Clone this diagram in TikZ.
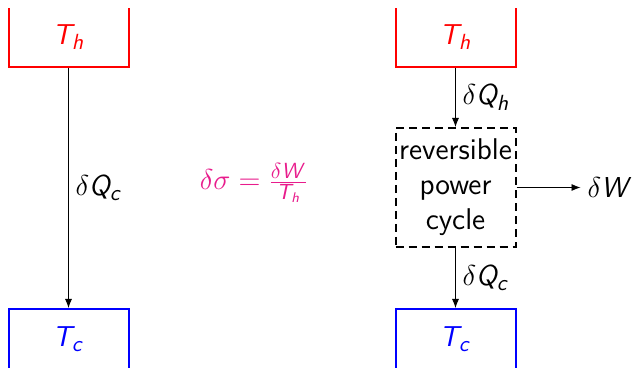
\documentclass[tikz,border=0pt]{standalone}
\usepackage{xcolor}
\usetikzlibrary{positioning,arrows.meta}
\DeclareMathAlphabet{\mathsfit}{OT1}{cmss}{m}{sl}
\definecolor{entpink}{RGB}{232,28,140}

\begin{document}
\begin{tikzpicture}[
  x=0.5pt, y=0.5pt,
  font=\fontsize{15}{17.5}\selectfont\sffamily,
  res/.style={draw, line width=1pt, minimum width=60pt, minimum height=30pt, inner sep=0pt},
  hot/.style={res, draw=red, text=red},
  cold/.style={res, draw=blue, text=blue},
  cyc/.style={draw, line width=1pt, dash pattern=on 4pt off 2.5pt, align=center,
    minimum width=60pt, minimum height=59.5pt, inner sep=0pt},
  >={Latex[length=4.5pt,width=3.5pt]}]
  \useasboundingbox (0,0) rectangle (633,368);
  \clip (0,0) rectangle (633,359.5);
  % left: direct heat transfer
  \node[hot]  (hotL)  at (68.5,331) {$\mathsfit{T}_{\mathsfit{h}}$};
  \node[cold] (coldL) at (68.5,29)  {$\mathsfit{T}_{\mathsfit{c}}$};
  \draw[->] (hotL) -- (coldL) node[midway, right] {$\delta\mathsfit{Q}_{\mathsfit{c}}$};
  \node[text=entpink] (sig) at (254,185)
    {$\delta\sigma = \frac{\delta\mathsfit{W}}{\mathsfit{T}_{\mathsfit{h}}}$};
  % right: reversible cycle in between
  \node[hot]  (hotR)  at (455.5,331) {$\mathsfit{T}_{\mathsfit{h}}$};
  \node[cyc]  (cycle) at (455.5,180.5) {reversible\\power\\cycle};
  \node[cold] (coldR) at (455.5,29)  {$\mathsfit{T}_{\mathsfit{c}}$};
  \node[right=32pt of cycle] (work) {$\delta\mathsfit{W}$};
  \draw[->] (hotR) -- (cycle) node[midway, right] {$\delta\mathsfit{Q}_{\mathsfit{h}}$};
  \draw[->] (cycle) -- (coldR) node[midway, right] {$\delta\mathsfit{Q}_{\mathsfit{c}}$};
  \draw[->] (cycle) -- (work);
\end{tikzpicture}
\end{document}
